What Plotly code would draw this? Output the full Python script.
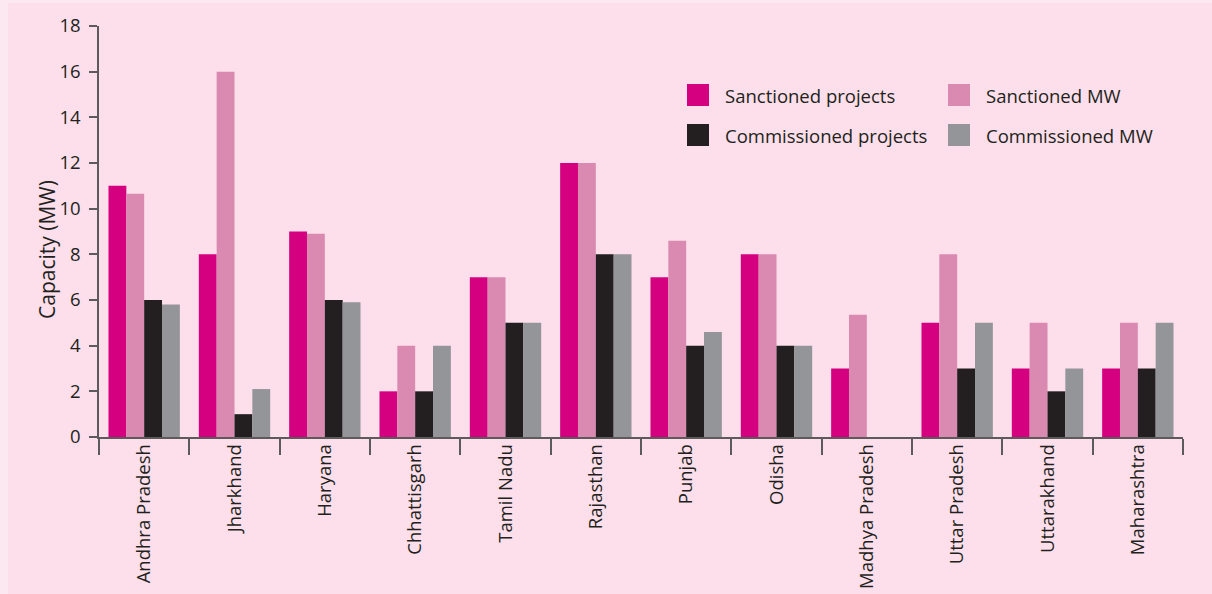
import plotly.graph_objects as go

states = ["Andhra Pradesh", "Jharkhand", "Haryana", "Chhattisgarh", "Tamil Nadu",
          "Rajasthan", "Punjab", "Odisha", "Madhya Pradesh", "Uttar Pradesh",
          "Uttarakhand", "Maharashtra"]
sanctioned_projects = [11, 8, 9, 2, 7, 12, 7, 8, 3, 5, 3, 3]
sanctioned_mw = [10.65, 16, 8.9, 4, 7, 12, 8.6, 8, 5.35, 8, 5, 5]
commissioned_projects = [6, 1, 6, 2, 5, 8, 4, 4, 0, 3, 2, 3]
commissioned_mw = [5.8, 2.1, 5.9, 4, 5, 8, 4.6, 4, 0, 5, 3, 5]

series_names = ["Sanctioned projects", "Sanctioned MW", "Commissioned projects", "Commissioned MW"]
series_values = [sanctioned_projects, sanctioned_mw, commissioned_projects, commissioned_mw]
series_colors = ["#D5007F", "#DA8AB0", "#231F20", "#939598"]

y_ticks = [0, 2, 4, 6, 8, 10, 12, 14, 16, 18]
y_title = "Capacity (MW)"

FONT = "Open Sans"
TXT = "#231F20"
AX = "#5d5a5c"
BG = "#FCDFEA"

fig = go.Figure()
for name, vals, col in zip(series_names, series_values, series_colors):
    fig.add_trace(go.Bar(x=states, y=vals, name=name, marker_color=col,
                         marker_line_width=0, showlegend=False))

# page offset (figure placed at 8px left, 3px top)
OX, OY = 8, 3
W, H = 1212 - OX, 594 - OY
ml, mr, mt, mb = 99 - OX, 1212 - 1183, 26 - OY, 594 - 437
pw, ph = W - ml - mr, H - mt - mb

def px_x(p):
    return (p - OX - ml) / pw

def px_y(p):
    return 1 - (p - OY - mt) / ph

shapes = []
annotations = []

# legend (2 columns x 2 rows)
col_x = [687, 948]
row_y = [95, 135]
for i, (name, col) in enumerate(zip(series_names, series_colors)):
    cx = col_x[i % 2]
    cy = row_y[i // 2]
    shapes.append(dict(type="rect", xref="paper", yref="paper",
                       x0=px_x(cx), x1=px_x(cx + 22), y0=px_y(cy + 11), y1=px_y(cy - 11),
                       fillcolor=col, line_width=0))
    annotations.append(dict(xref="paper", yref="paper", x=px_x(cx + 36), y=px_y(cy),
                            text=name, showarrow=False, xanchor="left", yanchor="middle",
                            font=dict(family=FONT, size=18.5, color=TXT)))

# y-axis title
annotations.append(dict(xref="paper", yref="paper", x=px_x(47), y=px_y(250),
                        text=y_title, textangle=-90, showarrow=False,
                        xanchor="center", yanchor="middle",
                        font=dict(family=FONT, size=21, color=TXT)))

fig.update_layout(
    width=W, height=H,
    margin=dict(l=ml, r=mr, t=mt, b=mb, pad=0, autoexpand=False),
    paper_bgcolor=BG, plot_bgcolor=BG,
    barmode="group", bargap=0.21, bargroupgap=0,
    shapes=shapes, annotations=annotations,
    font=dict(family=FONT, color=TXT),
)
fig.update_xaxes(
    type="category", tickangle=-90, tickson="boundaries", automargin=False,
    ticks="outside", ticklen=16, tickwidth=1.5, tickcolor=AX,
    showline=True, linecolor=AX, linewidth=1.5, showgrid=False, zeroline=False,
    tickfont=dict(family=FONT, size=18.5, color=TXT), ticklabelstandoff=-2,
)
fig.update_yaxes(
    range=[0, 18], tickvals=y_ticks, ticks="outside", ticklen=8, tickwidth=1.5, tickcolor=AX,
    showline=True, linecolor=AX, linewidth=1.5, showgrid=False, zeroline=False, automargin=False,
    tickfont=dict(family=FONT, size=18.5, color=TXT), ticklabelstandoff=5,
)

fig.write_html(
    "out.html",
    post_script="document.body.style.margin='3px 0 0 8px';"
                "document.body.style.background='#FCE8F0';"
                "document.documentElement.style.overflow='hidden';",
)
